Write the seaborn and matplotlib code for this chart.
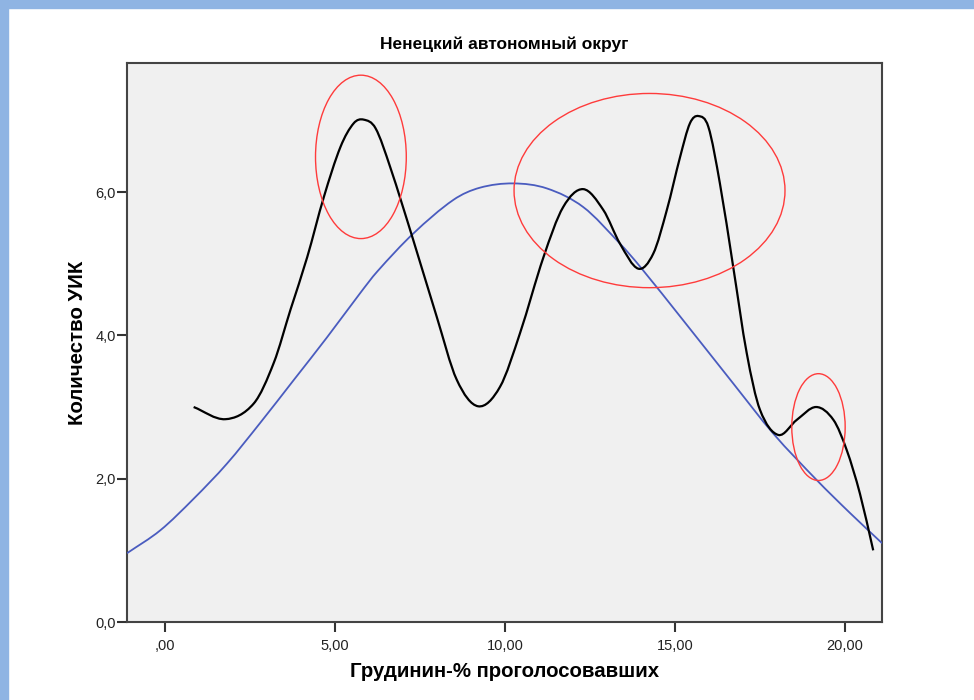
import seaborn as sns
import matplotlib.pyplot as plt
import pandas as pd
from matplotlib.patches import Ellipse, Rectangle, PathPatch
from matplotlib.path import Path

# 1- данные, снятые с картинки
# чёрная линия (интерполяция по числу УИК)
black_x = [0.84, 1.77, 2.61, 3.20, 3.69, 4.18, 4.67, 5.16, 5.55, 5.84, 6.19, 6.62,
           7.30, 7.99, 8.58, 9.21, 9.85, 10.44, 11.13, 11.71, 12.30, 12.89, 13.38,
           13.92, 14.36, 14.76, 15.15, 15.44, 15.69, 15.98, 16.32, 16.71, 17.11,
           17.50, 18.04, 18.58, 19.15, 19.66, 20.05, 20.44, 20.83]
black_y = [3.00, 2.83, 3.05, 3.62, 4.36, 5.09, 5.93, 6.63, 6.96, 7.01, 6.89, 6.35,
           5.33, 4.26, 3.38, 3.01, 3.28, 4.03, 5.09, 5.79, 6.04, 5.75, 5.28,
           4.93, 5.14, 5.75, 6.49, 6.96, 7.06, 6.91, 6.12, 4.96, 3.75,
           2.96, 2.61, 2.82, 3.00, 2.82, 2.40, 1.79, 1.00]

# синяя линия (нормальная кривая)
blue_x = [-1.12, -0.14, 0.84, 1.82, 2.80, 3.79, 4.76, 5.74, 6.24, 7.30, 8.48, 9.26,
          10.24, 11.23, 12.30, 13.38, 13.97, 15.24, 16.71, 17.89, 19.17, 20.15, 21.09]
blue_y = [0.96, 1.28, 1.72, 2.21, 2.78, 3.38, 3.97, 4.59, 4.89, 5.42, 5.89, 6.06,
          6.12, 6.05, 5.79, 5.28, 4.96, 4.21, 3.33, 2.63, 1.98, 1.52, 1.10]

# красные овалы: центр x, центр y, ширина, высота
ellipse_cx = [5.76, 14.25, 19.22]
ellipse_cy = [6.49, 6.02, 2.72]
ellipse_w = [2.67, 7.97, 1.57]
ellipse_h = [2.28, 2.71, 1.49]

x_ticks = [0, 5, 10, 15, 20]
x_labels = [",00", "5,00", "10,00", "15,00", "20,00"]
y_ticks = [0, 2, 4, 6]
y_labels = ["0,0", "2,0", "4,0", "6,0"]

df_black = pd.DataFrame({"x": black_x, "y": black_y})
df_blue = pd.DataFrame({"x": blue_x, "y": blue_y})


def smooth_path(df):
    # гладкая линия через точки таблицы (кривые Безье, касательные по соседям)
    xs = list(df["x"])
    ys = list(df["y"])
    n = len(xs)
    slopes = []
    for i in range(n):
        a = max(i - 1, 0)
        b = min(i + 1, n - 1)
        slopes.append((ys[b] - ys[a]) / (xs[b] - xs[a]))
    verts = [(xs[0], ys[0])]
    codes = [Path.MOVETO]
    for i in range(n - 1):
        h = (xs[i + 1] - xs[i]) / 3
        verts += [(xs[i] + h, ys[i] + slopes[i] * h),
                  (xs[i + 1] - h, ys[i + 1] - slopes[i + 1] * h),
                  (xs[i + 1], ys[i + 1])]
        codes += [Path.CURVE4] * 3
    return Path(verts, codes)


# 2- рисунок
sns.set_style("ticks", {"axes.facecolor": "#f0f0f0", "axes.edgecolor": "#444444"})
plt.rcParams["font.family"] = ["Liberation Sans", "DejaVu Sans"]
plt.rcParams["text.color"] = "black"
plt.rcParams["axes.labelcolor"] = "black"
fig = plt.figure(figsize=(9.74, 7.0), dpi=100)
ax = fig.add_axes([0.1304, 0.1114, 0.7752, 0.7986])

# голубая рамка
fig.patches.append(Rectangle((0, 1 - 8 / 700), 1, 8 / 700, transform=fig.transFigure,
                             color="#8fb4e3", zorder=0))
fig.patches.append(Rectangle((0, 0), 8 / 974, 1, transform=fig.transFigure,
                             color="#8fb4e3", zorder=0))

ax.add_patch(PathPatch(smooth_path(df_blue), fill=False, edgecolor="#4a5cbf",
                       linewidth=1.3, zorder=3))
ax.add_patch(PathPatch(smooth_path(df_black), fill=False, edgecolor="black",
                       linewidth=1.6, zorder=4))

for cx, cy, w, h in zip(ellipse_cx, ellipse_cy, ellipse_w, ellipse_h):
    ax.add_patch(Ellipse((cx, cy), w, h, fill=False, edgecolor="#ff3b3b",
                         linewidth=1.0, zorder=5))

ax.set_xlim(-1.12, 21.09)
ax.set_ylim(0, 7.8)
ax.set_xticks(x_ticks)
ax.set_xticklabels(x_labels)
ax.set_yticks(y_ticks)
ax.set_yticklabels(y_labels)
ax.tick_params(axis="y", length=7, width=1.5, color="#333333",
               labelsize=10.5, labelcolor="#222222", pad=1)
ax.tick_params(axis="x", length=7, width=1.5, color="#333333",
               labelsize=10.5, labelcolor="#222222", pad=5)

for s in ax.spines.values():
    s.set_visible(True)
    s.set_color("#444444")
    s.set_linewidth(1.5)

ax.set_title("Ненецкий автономный округ", fontsize=12.5, fontweight="bold",
             color="black", pad=10)
ax.set_xlabel("Грудинин-% проголосовавших", fontsize=14.7, fontweight="bold", labelpad=7)
ax.set_ylabel("Количество УИК", fontsize=14.7, fontweight="bold", labelpad=6)

fig.savefig("out.png", dpi=100, facecolor="white")
